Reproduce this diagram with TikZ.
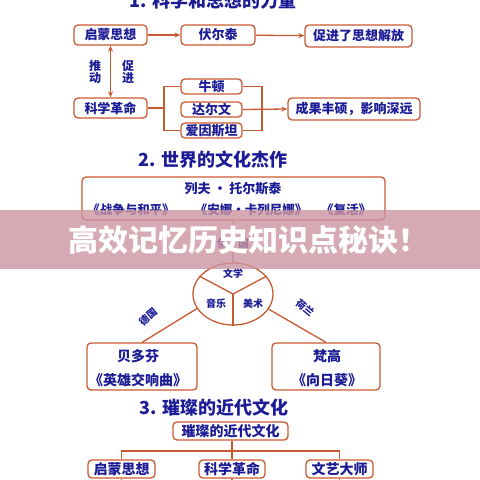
\documentclass[tikz,border=0pt]{standalone}
\usepackage{fontspec}
\setmainfont{Noto Sans CJK SC}
\usetikzlibrary{arrows.meta,shapes.geometric}
\definecolor{ln}{RGB}{200,90,50}
\definecolor{tx}{RGB}{28,28,150}
\definecolor{band}{RGB}{204,149,161}
\tikzset{
  bx/.style={draw=ln, line width=1.3pt, rounded corners=4pt, fill=white, text=tx, inner sep=0pt,
    font=\bfseries\fontsize{13}{15}\selectfont},
  lbl/.style={text=tx, inner sep=0pt, font=\bfseries\fontsize{13}{15}\selectfont},
  small/.style={text=tx, inner sep=0pt, font=\bfseries\fontsize{10}{12}\selectfont},
  ttl/.style={text=tx, inner sep=0pt, font=\bfseries\fontsize{18}{20}\selectfont},
  con/.style={draw=ln, line width=1.3pt},
  arr/.style={con, -{Stealth[length=6pt,width=5pt]}},
}
\begin{document}
\begin{tikzpicture}[x=1pt,y=-1pt]
\useasboundingbox (0,0) rectangle (480,480);
% ---------- section 1
\node[ttl] (t1) at (213,1) {1. 科学和思想的力量};
\node[bx, minimum width=73pt, minimum height=20pt] (qm1) at (110.5,35) {启蒙思想};
\node[bx, minimum width=74pt, minimum height=20pt] (fet) at (218,35) {伏尔泰};
\node[bx, minimum width=107pt, minimum height=22pt] (cj) at (358.5,36) {促进了思想解放};
\node[bx, minimum width=73pt, minimum height=20pt] (kx1) at (110.5,108) {科学革命};
\node[bx, minimum width=61pt, minimum height=15pt] (nd) at (211.5,86.5) {牛顿};
\node[bx, minimum width=61pt, minimum height=15pt] (dew) at (211.5,109.5) {达尔文};
\node[bx, minimum width=61pt, minimum height=15pt] (ast) at (211.5,130.5) {爱因斯坦};
\node[bx, minimum width=132pt, minimum height=22pt] (cg) at (354,109) {成果丰硕，影响深远};
\node[lbl, align=center, font=\bfseries\fontsize{12}{11}\selectfont] (td) at (95,72) {推\\动};
\node[lbl, align=center, font=\bfseries\fontsize{12}{11}\selectfont] (cjl) at (128,72) {促\\进};
\coordinate (lbx) at (164,0);
\coordinate (rbx) at (262,0);
\draw[arr] (qm1) -- (fet);
\draw[arr] (fet) -- (cj);
\draw[con, {Stealth[length=6pt,width=5pt]}-{Stealth[length=6pt,width=5pt]}] (qm1.south) -- (kx1.north);
\draw[con] (kx1.east) -- (kx1.east -| lbx);
\draw[con] (nd.west) -- (nd.west -| lbx) -- (ast.west -| lbx) -- (ast.west);
\draw[con] (nd.east) -- (nd.east -| rbx) -- (ast.east -| rbx) -- (ast.east);
\draw[arr] (dew.east) -- (cg.west);
% ---------- section 2
\node[ttl] (t2) at (213,160) {2. 世界的文化杰作};
\node[bx, minimum width=303pt, minimum height=43pt] (lf) at (233.5,198.5) {};
\node[lbl] (lfn) at (233,189) {列夫 · 托尔斯泰};
\node[lbl, font=\bfseries\fontsize{12.5}{14}\selectfont] (w1) at (131,210) {《战争与和平》};
\node[lbl, font=\bfseries\fontsize{12.5}{14}\selectfont] (w2) at (251,210) {《安娜·卡列尼娜》};
\node[lbl, font=\bfseries\fontsize{12.5}{14}\selectfont] (w3) at (346,210) {《复活》};
\node[draw=ln, line width=1.3pt, ellipse, minimum width=80pt, minimum height=62pt, inner sep=0pt] (circ) at (233,294) {};
\draw[con] (lf.south) -- (circ.north);
\node[small, font=\bfseries\fontsize{11}{12}\selectfont] (ey) at (233,243) {俄\hspace{10pt}国};
\draw[con] (circ.center) -- (circ.152);
\draw[con] (circ.center) -- (circ.28);
\draw[con] (circ.center) -- (circ.south);
\node[small] (wx) at (233,274) {文学};
\node[small] (yy) at (216,304) {音乐};
\node[small] (ms) at (253,304) {美术};
\node[bx, minimum width=110pt, minimum height=47pt, font=\bfseries\fontsize{14}{16}\selectfont] (bmf) at (142,366.5) {};
\node[lbl, font=\bfseries\fontsize{14}{16}\selectfont] (bmfn) at (138,356) {贝多芬};
\node[lbl, font=\bfseries\fontsize{14}{16}\selectfont] (bmfw) at (138,380) {《英雄交响曲》};
\node[bx, minimum width=108pt, minimum height=47pt] (fg) at (326,366.5) {};
\node[lbl, font=\bfseries\fontsize{14}{16}\selectfont] (fgn) at (327,356) {梵高};
\node[lbl, font=\bfseries\fontsize{14}{16}\selectfont] (fgw) at (327,380) {《向日葵》};
\draw[con] (circ.202) -- (bmf.north);
\draw[con] (circ.337) -- (fg.north);
\node[small, rotate=40] (dg) at (148,317) {德国};
\node[small, rotate=-40] (hl) at (305,308) {荷兰};
% ---------- section 3
\node[ttl] (t3) at (214,408) {3. 璀璨的近代文化};
\node[bx, minimum width=115pt, minimum height=18pt, font=\bfseries\fontsize{14}{16}\selectfont] (cc) at (230.5,431) {璀璨的近代文化};
\node[bx, minimum width=67pt, minimum height=18pt, font=\bfseries\fontsize{14}{16}\selectfont] (qm2) at (121.5,469) {启蒙思想};
\node[bx, minimum width=66pt, minimum height=18pt, font=\bfseries\fontsize{14}{16}\selectfont] (kx2) at (232,469) {科学革命};
\node[bx, minimum width=67pt, minimum height=18pt, font=\bfseries\fontsize{14}{16}\selectfont] (wy2) at (339.5,469) {文艺大师};
\coordinate (hy) at (0,451);
\coordinate (by) at (0,480);
\draw[con] (kx2.north |- cc.south) -- (kx2.north);
\draw[con] (qm2.north) -- (qm2.north |- hy) -- (wy2.north |- hy) -- (wy2.north);
\draw[con] (qm2.south) -- (qm2.south |- by);
\draw[con] (kx2.south) -- (kx2.south |- by);
\draw[con] (wy2.south) -- (wy2.south |- by);
% ---------- banner
\fill[band, fill opacity=0.8] (0,210) rectangle (480,269);
\node[text=white, inner sep=0pt, anchor=west, font=\bfseries\fontsize{30}{32}\selectfont] (bn) at (68,240) {高效记忆历史知识点秘诀！};
\end{tikzpicture}
\end{document}
